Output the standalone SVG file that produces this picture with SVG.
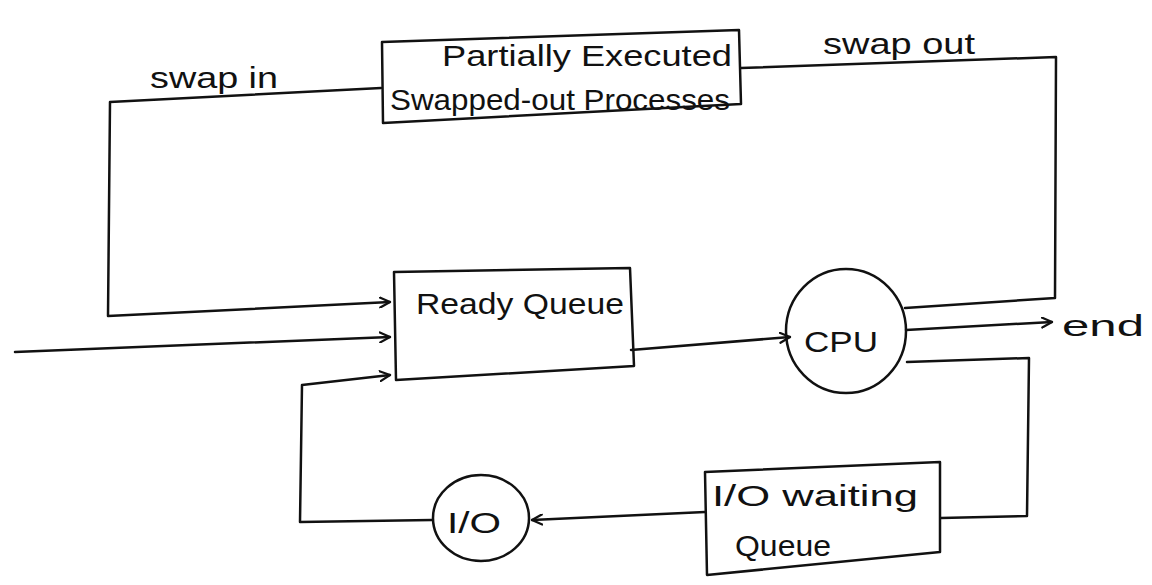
<svg xmlns="http://www.w3.org/2000/svg" width="1152" height="585" viewBox="0 0 1152 585">
<defs>
<marker id="arr" viewBox="0 0 12 12" refX="11" refY="6" markerWidth="12" markerHeight="12" markerUnits="userSpaceOnUse" orient="auto">
<path d="M1,1 L11,6 L1,11" fill="none" stroke="#111" stroke-width="2.2" stroke-linecap="round" stroke-linejoin="round"/>
</marker>
<style>
.shape{fill:none;stroke:#111;stroke-width:2.5;stroke-linejoin:round}
.ln{fill:none;stroke:#111;stroke-width:2.5;stroke-linejoin:round;stroke-linecap:round}
.t{font-family:"Liberation Sans","DejaVu Sans",sans-serif;font-size:30px;fill:#111}
</style>
</defs>
<rect width="1152" height="585" fill="#ffffff"/>
<g id="connectors">
<path class="ln" d="M381,88 L110,102 L108,316 L390,302" marker-end="url(#arr)"/>
<path class="ln" d="M15,352 L390,337" marker-end="url(#arr)"/>
<path class="ln" d="M432,520 L300,522 L302,385 L390,375" marker-end="url(#arr)"/>
<path class="ln" d="M631,350 L790,337" marker-end="url(#arr)"/>
<path class="ln" d="M906,330 L1052,322" marker-end="url(#arr)"/>
<path class="ln" d="M905,308 L1055,298 L1056,57 L741,68"/>
<path class="ln" d="M907,362 L1029,358 L1027,516 L941,518"/>
<path class="ln" d="M705,512 L532,520" marker-end="url(#arr)"/>
<text class="t" x="150" y="88" textLength="128" lengthAdjust="spacingAndGlyphs">swap in</text>
<text class="t" x="823" y="54" textLength="152" lengthAdjust="spacingAndGlyphs">swap out</text>
</g>
<g id="swapped">
<path class="shape" d="M382,42 L739,30 L741,104 L383,123 Z"/>
<text class="t" x="442" y="66" textLength="290" lengthAdjust="spacingAndGlyphs">Partially Executed</text>
<text class="t" x="390" y="110" textLength="340" lengthAdjust="spacingAndGlyphs">Swapped-out Processes</text>
</g>
<g id="ready">
<path class="shape" d="M394,272 L630,268 L634,366 L396,380 Z"/>
<text class="t" x="416" y="314" textLength="208" lengthAdjust="spacingAndGlyphs">Ready Queue</text>
</g>
<g id="cpu">
<ellipse class="shape" cx="846" cy="331" rx="60" ry="62"/>
<text class="t" x="804" y="352" textLength="74" lengthAdjust="spacingAndGlyphs">CPU</text>
</g>
<g id="end">
<text class="t" x="1062" y="336" font-size="34" textLength="82" lengthAdjust="spacingAndGlyphs">end</text>
</g>
<g id="io">
<ellipse class="shape" cx="481" cy="518" rx="48" ry="43"/>
<text class="t" x="447" y="533" textLength="54" lengthAdjust="spacingAndGlyphs">I/O</text>
</g>
<g id="iowait">
<path class="shape" d="M705,472 L940,462 L940,552 L707,575 Z"/>
<text class="t" x="712" y="506" textLength="206" lengthAdjust="spacingAndGlyphs">I/O waiting</text>
<text class="t" x="735" y="556" textLength="96" lengthAdjust="spacingAndGlyphs">Queue</text>
</g>
</svg>
